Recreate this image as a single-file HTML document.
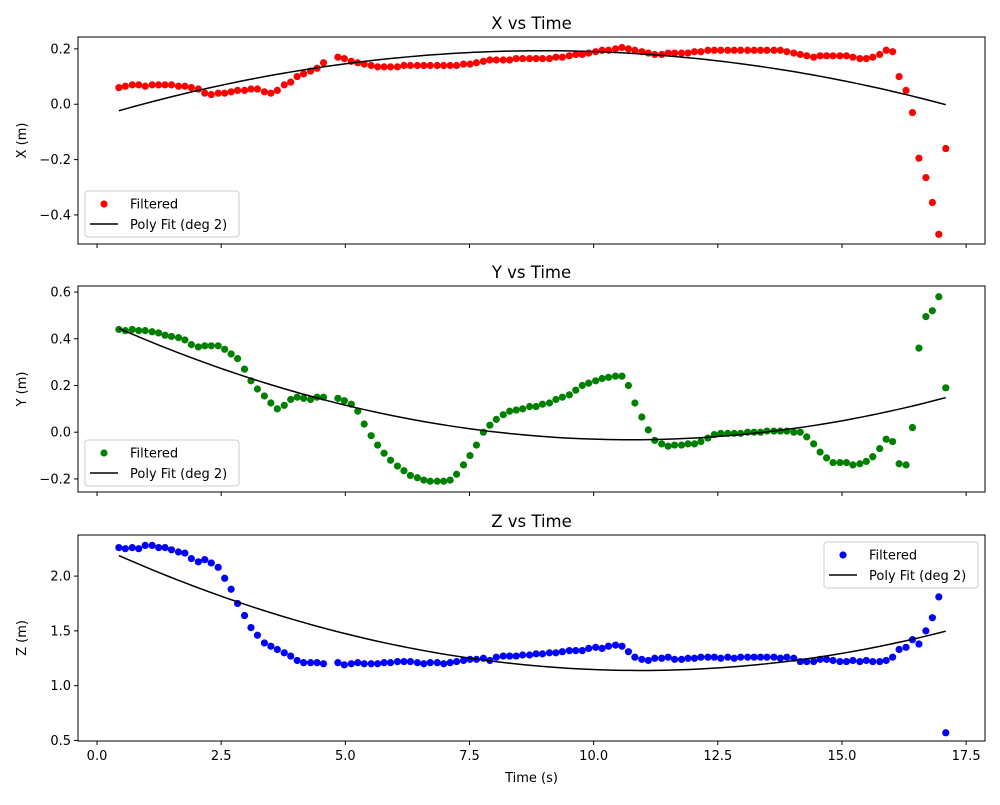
<!DOCTYPE html>
<html><head><meta charset="utf-8"><style>
body{margin:0;background:#fff;}
svg text{font-family:"DejaVu Sans","Liberation Sans",sans-serif;}
</style></head><body>
<svg id="fig" width="1000" height="800" xmlns="http://www.w3.org/2000/svg"></svg>
<script>
const times=[0.44,0.57,0.71,0.84,0.97,1.11,1.24,1.37,1.50,1.64,1.77,1.90,2.04,2.17,2.30,2.44,2.57,2.70,2.83,2.97,3.10,3.23,3.37,3.50,3.63,3.77,3.90,4.03,4.16,4.30,4.43,4.56,
4.85,4.98,5.12,5.25,5.38,5.52,5.65,5.78,5.91,6.05,6.18,6.31,6.45,6.58,6.71,6.85,6.98,7.11,7.24,7.38,7.51,7.64,7.78,7.91,8.04,8.18,8.31,8.44,8.57,8.71,8.84,8.97,9.11,9.24,9.37,9.51,9.64,9.77,9.90,10.04,10.17,10.30,10.44,10.57,10.70,10.83,10.97,11.10,11.23,11.37,11.50,11.63,11.77,11.90,12.03,12.16,12.30,12.43,12.56,12.70,12.83,12.96,13.10,13.23,13.36,13.49,13.63,13.76,13.89,14.03,14.16,14.29,14.43,14.56,14.69,14.82,14.96,15.09,15.22,15.36,15.49,15.62,15.76,15.89,16.02,16.15,16.29,16.42,16.55,16.69,16.82,16.95,17.09];
const xVals=[0.06,0.065,0.07,0.07,0.065,0.07,0.07,0.07,0.07,0.065,0.065,0.06,0.055,0.04,0.035,0.04,0.04,0.045,0.05,0.05,0.055,0.055,0.045,0.04,0.05,0.07,0.08,0.10,0.11,0.12,0.13,0.15,
0.17,0.165,0.155,0.15,0.145,0.14,0.135,0.135,0.135,0.135,
0.14,0.14,0.14,0.14,0.14,0.14,0.14,0.14,0.14,0.145,
0.145,0.15,0.155,0.16,0.16,0.16,0.16,0.165,0.165,0.165,
0.165,0.165,0.165,0.17,0.17,0.175,0.18,0.18,0.185,0.19,
0.195,0.195,0.2,0.205,0.2,0.195,0.19,0.185,0.18,0.18,
0.185,0.185,0.185,0.185,0.19,0.19,0.195,0.195,0.195,0.195,
0.195,0.195,0.195,0.195,0.195,0.195,0.195,0.195,0.19,
0.185,0.18,0.175,0.17,0.175,0.175,0.175,0.175,0.175,0.17,
0.165,0.165,0.17,0.18,0.195,0.19,
0.10,0.05,-0.03,-0.195,-0.265,-0.355,-0.47,-0.16];
const yVals=[0.44,0.435,0.44,0.435,0.435,0.43,0.425,0.415,0.41,0.405,0.395,0.375,0.365,0.37,0.37,0.37,0.355,0.335,0.315,0.27,0.22,0.185,0.155,0.125,0.1,0.115,0.14,0.15,0.145,0.14,0.15,0.15,
0.145,0.135,0.12,0.09,0.035,-0.015,-0.055,-0.09,-0.12,-0.145,
-0.165,-0.185,-0.195,-0.205,-0.21,-0.21,-0.21,-0.205,-0.18,-0.14,
-0.1,-0.055,0.0,0.03,0.055,0.075,0.09,0.095,0.1,0.11,
0.11,0.12,0.125,0.14,0.15,0.16,0.18,0.2,0.21,0.22,0.23,
0.235,0.24,0.24,0.2,0.125,0.065,0.01,-0.035,-0.05,-0.06,
-0.055,-0.055,-0.05,-0.05,-0.04,-0.025,-0.01,-0.005,-0.005,-0.005,
-0.005,0,0,0,0.005,0.005,0.005,0.005,0,0,
-0.02,-0.05,-0.085,-0.11,-0.13,-0.13,-0.13,-0.14,-0.135,-0.125,
-0.105,-0.07,-0.03,-0.04,-0.135,-0.14,0.02,0.36,0.495,0.52,0.58,0.19];
const zVals=[2.26,2.25,2.26,2.25,2.28,2.28,2.26,2.26,2.24,2.22,2.21,2.16,2.13,2.15,2.12,2.08,1.98,1.88,1.75,1.64,1.53,1.46,1.39,1.36,1.33,1.3,1.27,1.23,1.21,1.21,1.21,1.2,
1.21,1.19,1.2,1.21,1.2,1.2,1.2,1.21,1.21,1.22,
1.22,1.22,1.21,1.2,1.21,1.21,1.2,1.21,1.22,1.23,
1.24,1.24,1.25,1.23,1.26,1.27,1.27,1.27,1.28,1.28,
1.29,1.29,1.3,1.3,1.31,1.32,1.32,1.32,1.34,1.35,
1.34,1.36,1.37,1.36,1.31,1.26,1.24,1.23,1.25,1.25,
1.26,1.24,1.24,1.25,1.25,1.26,1.26,1.26,1.25,1.26,
1.25,1.26,1.26,1.26,1.26,1.26,1.26,1.25,1.26,1.25,
1.22,1.22,1.22,1.24,1.24,1.23,1.22,1.22,1.23,1.22,
1.23,1.22,1.22,1.23,1.26,1.33,1.35,1.42,1.38,1.5,1.62,1.81,0.57];
const xTicks=[0,2.5,5,7.5,10,12.5,15,17.5];
const xTickLabels=["0.0","2.5","5.0","7.5","10.0","12.5","15.0","17.5"];
const ticksX=[0.2,0.0,-0.2,-0.4], labelsX=["0.2","0.0","−0.2","−0.4"];
const ticksY=[0.6,0.4,0.2,0.0,-0.2], labelsY=["0.6","0.4","0.2","0.0","−0.2"];
const ticksZ=[2.0,1.5,1.0,0.5], labelsZ=["2.0","1.5","1.0","0.5"];

const NS="http://www.w3.org/2000/svg";
const fig=document.getElementById('fig');
function mk(tag,attrs,parent,text){const e=document.createElementNS(NS,tag);for(const k in attrs)e.setAttribute(k,attrs[k]);if(text!==undefined)e.textContent=text;(parent||fig).appendChild(e);return e;}
const L=78,R=985,XMIN=-0.383,XMAX=17.88;
const sx=t=>L+(t-XMIN)/(XMAX-XMIN)*(R-L);
function polyfit2(xs,ys){let S=[0,0,0,0,0],T=[0,0,0];for(let i=0;i<xs.length;i++){let p=1;for(let k=0;k<5;k++){S[k]+=p;if(k<3)T[k]+=p*ys[i];p*=xs[i];}}
const A=[[S[0],S[1],S[2],T[0]],[S[1],S[2],S[3],T[1]],[S[2],S[3],S[4],T[2]]];
for(let i=0;i<3;i++){for(let j=i+1;j<3;j++){const f=A[j][i]/A[i][i];for(let k=i;k<4;k++)A[j][k]-=f*A[i][k];}}
const c=[0,0,0];for(let i=2;i>=0;i--){let s=A[i][3];for(let k=i+1;k<3;k++)s-=A[i][k]*c[k];c[i]=s/A[i][i];}return c;}
function panel(cfg){
 const {top,bot,ymin,ymax,vals,color,title,ylabel,ticks,labels,legendPos,name,showX}=cfg;
 const sy=v=>bot-(v-ymin)/(ymax-ymin)*(bot-top);
 const g=mk('g',{});
 
 
 const t=mk('text',{x:(L+R)/2,y:top-8,'text-anchor':'middle','font-size':'16.5'},g,title);
 
 const yl=mk('text',{x:0,y:0,'text-anchor':'middle','font-size':'13',transform:`translate(26,${(top+bot)/2}) rotate(-90)`},g,ylabel);
 
 ticks.forEach((v,i)=>{const y=sy(v);mk('line',{x1:L-4,x2:L,y1:y,y2:y,stroke:'#000','stroke-width':1},g);
  const tl=mk('text',{x:L-7,y:y+4.5,'text-anchor':'end','font-size':'13'},g,labels[i]);
  });
 xTicks.forEach((v,i)=>{const x=sx(v);mk('line',{x1:x,x2:x,y1:bot,y2:bot+4,stroke:'#000','stroke-width':1},g);
  if(showX){const tl=mk('text',{x:x,y:bot+19,'text-anchor':'middle','font-size':'13'},g,xTickLabels[i]);
  }});
 const cp=mk('clipPath',{id:'cp'+name},g);mk('rect',{x:L,y:top,width:R-L,height:bot-top},cp);
 const pg=mk('g',{'clip-path':`url(#cp${name})`},g);
 vals.forEach((v,i)=>{const c=mk('circle',{cx:sx(times[i]),cy:sy(v),r:3.6,fill:color},pg);
  });
 const co=polyfit2(times,vals);const t0=times[0],t1=times[times.length-1];let d='';
 for(let k=0;k<=100;k++){const tt=t0+(t1-t0)*k/100;const v=co[0]+co[1]*tt+co[2]*tt*tt;d+=(k?'L':'M')+sx(tt).toFixed(2)+','+sy(v).toFixed(2);}
 const fl=mk('path',{d:d,fill:'none',stroke:'#000','stroke-width':1.5},pg);
 
 mk('rect',{x:L,y:top,width:R-L,height:bot-top,fill:'none',stroke:'#000','stroke-width':1},g);
 const [lx,ly]=legendPos;
 const lg=mk('g',{},g);
 mk('rect',{x:lx,y:ly,width:154,height:46,rx:3,fill:'#fff','fill-opacity':0.8,stroke:'#ccc'},lg);
 mk('circle',{cx:lx+19,cy:ly+13,r:3.6,fill:color},lg);
 mk('text',{x:lx+45,y:ly+17.5,'font-size':'13'},lg,'Filtered');
 mk('line',{x1:lx+5,x2:lx+33,y1:ly+33,y2:ly+33,stroke:'#000','stroke-width':1.5},lg);
 mk('text',{x:lx+45,y:ly+38,'font-size':'13'},lg,'Poly Fit (deg 2)');
}
panel({top:37,bot:244,ymin:-0.505,ymax:0.243,vals:xVals,color:'#ff0000',title:'X vs Time',ylabel:'X (m)',ticks:ticksX,labels:labelsX,legendPos:[85,191],name:'x',showX:false});
panel({top:286,bot:492,ymin:-0.256,ymax:0.626,vals:yVals,color:'#008000',title:'Y vs Time',ylabel:'Y (m)',ticks:ticksY,labels:labelsY,legendPos:[85,440],name:'y',showX:false});
panel({top:535,bot:741,ymin:0.495,ymax:2.375,vals:zVals,color:'#0000ff',title:'Z vs Time',ylabel:'Z (m)',ticks:ticksZ,labels:labelsZ,legendPos:[824,542],name:'z',showX:true});
const xt=mk('text',{x:(L+R)/2,y:782,'text-anchor':'middle','font-size':'13'},fig,'Time (s)');


</script>
</body></html>
